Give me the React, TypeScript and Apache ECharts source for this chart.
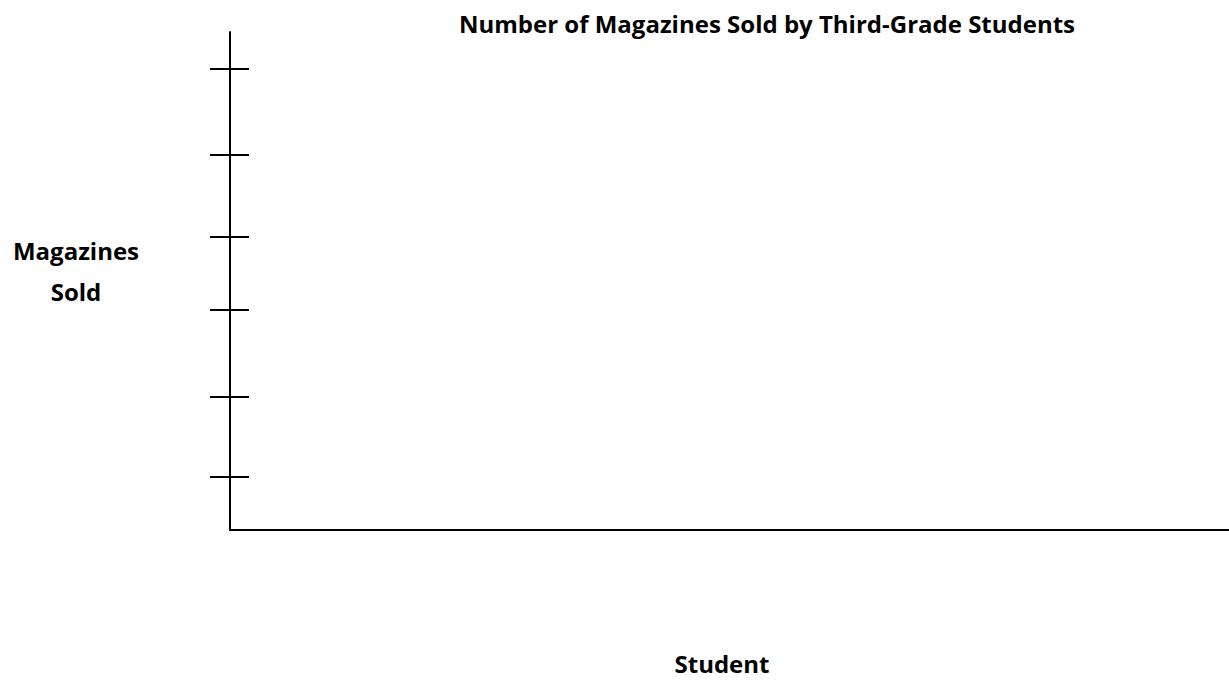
import React, { useEffect, useRef } from "react";
import * as echarts from "echarts";

const titleText = "Number of Magazines Sold by Third-Grade Students";
const yAxisTitle = "Magazines\nSold";
const xAxisTitle = "Student";
const students: string[] = [""];
const magazinesSold: (number | null)[] = [null];
const yMin = 0;
const yMax = 100;
const yTickValues = [10.6, 26.8, 44.3, 58.8, 75.3, 92.7];

const FONT = "'Open Sans', sans-serif";

export default function App() {
  const ref = useRef<HTMLDivElement>(null);
  useEffect(() => {
    if (!ref.current) return;
    const chart = echarts.init(ref.current, undefined, { renderer: "svg" });
    chart.setOption({
      animation: false,
      backgroundColor: "#ffffff",
      title: {
        text: titleText,
        left: 762,
        top: 6,
        textAlign: "center",
        textStyle: { fontFamily: FONT, fontWeight: "bold", fontSize: 24, color: "#000" },
      },
      graphic: [
        {
          type: "text",
          x: 76,
          y: 230,
          style: {
            text: yAxisTitle,
            align: "center",
            verticalAlign: "top",
            fontFamily: FONT,
            fontWeight: "bold",
            fontSize: 24,
            lineHeight: 41,
            fill: "#000",
          },
        },
        {
          type: "text",
          x: 722,
          y: 651,
          style: {
            text: xAxisTitle,
            align: "center",
            verticalAlign: "top",
            fontFamily: FONT,
            fontWeight: "bold",
            fontSize: 24,
            fill: "#000",
          },
        },
      ],
      grid: { left: 230, right: 0, top: 32, bottom: 152, containLabel: false },
      xAxis: {
        type: "category",
        data: students,
        axisLine: { show: true, lineStyle: { color: "#000", width: 2 } },
        axisTick: { show: false },
        axisLabel: { show: false },
        splitLine: { show: false },
      },
      yAxis: [
        {
          type: "value",
          min: yMin,
          max: yMax,
          position: "left",
          axisLine: { show: true, lineStyle: { color: "#000", width: 2 } },
          axisTick: {
            show: true,
            inside: false,
            length: 20,
            customValues: yTickValues,
            lineStyle: { color: "#000", width: 2 },
          },
          axisLabel: { show: false },
          splitLine: { show: false },
        },
        {
          type: "value",
          min: yMin,
          max: yMax,
          position: "left",
          offset: 0,
          axisLine: { show: false },
          axisTick: {
            show: true,
            inside: true,
            length: 19,
            customValues: yTickValues,
            lineStyle: { color: "#000", width: 2 },
          },
          axisLabel: { show: false },
          splitLine: { show: false },
        },
      ],
      series: [
        {
          type: "bar",
          data: magazinesSold,
          yAxisIndex: 0,
          itemStyle: { color: "#000" },
        },
      ],
    });
    return () => chart.dispose();
  }, []);
  return (
    <div
      ref={ref}
      style={{ position: "fixed", left: 0, top: 0, width: 1229, height: 682, background: "#fff" }}
    />
  );
}
